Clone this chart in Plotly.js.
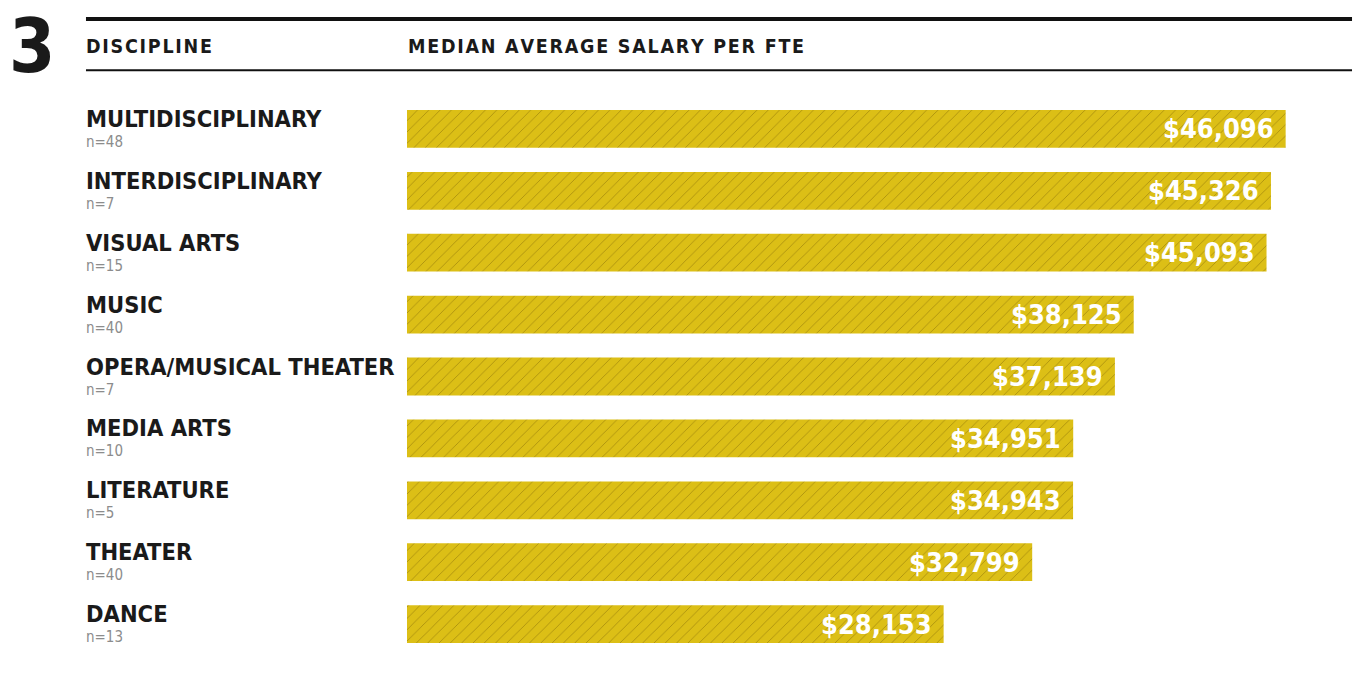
<!DOCTYPE html>
<html>
<head>
<meta charset="utf-8">
<script src="https://cdn.plot.ly/plotly-3.0.1.min.js"></script>
<style>body{margin:0;background:#fff}#chart{width:1357px;height:679px}</style>
</head>
<body>
<div id="chart"></div>
<script>
const disciplines = ["MULTIDISCIPLINARY","INTERDISCIPLINARY","VISUAL ARTS","MUSIC","OPERA/MUSICAL THEATER","MEDIA ARTS","LITERATURE","THEATER","DANCE"];
const sampleSizes = [48,7,15,40,7,10,5,40,13];
const salaries = [46096,45326,45093,38125,37139,34951,34943,32799,28153];
const headerLeft = "DISCIPLINE";
const headerRight = "MEDIAN AVERAGE SALARY PER FTE";
const chartNumber = "3";

const FONT = '"DejaVu Sans Condensed", "Liberation Sans Narrow", "DejaVu Sans", sans-serif';
const fmt = v => '$' + v.toLocaleString('en-US');
const spaced = s => s.split('').join('\u200A');

const trace = {
  type: 'bar',
  orientation: 'h',
  y: disciplines,
  x: salaries,
  width: 0.61,
  marker: {
    color: '#dcbf16',
    line: {width: 0},
    pattern: {shape: '/', fgcolor: '#a68c0e', bgcolor: '#dcbf16', size: 8, solidity: 0.1}
  },
  hoverinfo: 'skip'
};

const LX = -0.346;
const annotations = [];
disciplines.forEach((d, i) => {
  annotations.push({xref:'paper', x:LX, yref:'y', y:d, xanchor:'left', yanchor:'middle', yshift:10,
    text:d, showarrow:false, font:{family:FONT, size:23.5, color:'#1a1a1a', weight:700}});
  annotations.push({xref:'paper', x:LX, yref:'y', y:d, xanchor:'left', yanchor:'middle', yshift:-13,
    text:'n=' + sampleSizes[i], showarrow:false, font:{family:FONT, size:15, color:'#8c8c8c'}});
  annotations.push({xref:'x', x:salaries[i], yref:'y', y:d, xanchor:'right', yanchor:'middle', xshift:-10, yshift:0,
    text:fmt(salaries[i]), showarrow:false, font:{family:FONT, size:27, color:'#ffffff', weight:700}});
});
annotations.push({xref:'paper', x:LX, yref:'paper', y:1.093, xanchor:'left', yanchor:'middle',
  text:spaced(headerLeft), showarrow:false, font:{family:FONT, size:19.5, color:'#1a1a1a', weight:700}});
annotations.push({xref:'paper', x:-0.0015, yref:'paper', y:1.093, xanchor:'left', yanchor:'middle',
  text:spaced(headerRight), showarrow:false, font:{family:FONT, size:19.5, color:'#1a1a1a', weight:700}});
annotations.push({xref:'paper', x:-0.4286, yref:'paper', y:1.175, xanchor:'left', yanchor:'top',
  text:chartNumber, showarrow:false, font:{family:FONT, size:74, color:'#1a1a1a', weight:700}});

const layout = {
  width: 1357, height: 679,
  margin: {l:407, r:16, t:98, b:24},
  paper_bgcolor:'#ffffff', plot_bgcolor:'#ffffff',
  showlegend:false,
  xaxis: {range:[0,49000], visible:false, fixedrange:true},
  yaxis: {type:'category', autorange:'reversed', showticklabels:false, showgrid:false, zeroline:false, showline:false, ticks:''},
  annotations: annotations,
  shapes: [
    {type:'line', xref:'paper', yref:'paper', x0:-0.3437, x1:1.0118, y0:1.142, y1:1.142, line:{color:'#111', width:4}},
    {type:'line', xref:'paper', yref:'paper', x0:-0.3437, x1:1.0118, y0:1.050, y1:1.050, line:{color:'#111', width:2}}
  ]
};

Plotly.newPlot('chart', [trace], layout, {displayModeBar:false, staticPlot:true});
</script>
</body>
</html>
